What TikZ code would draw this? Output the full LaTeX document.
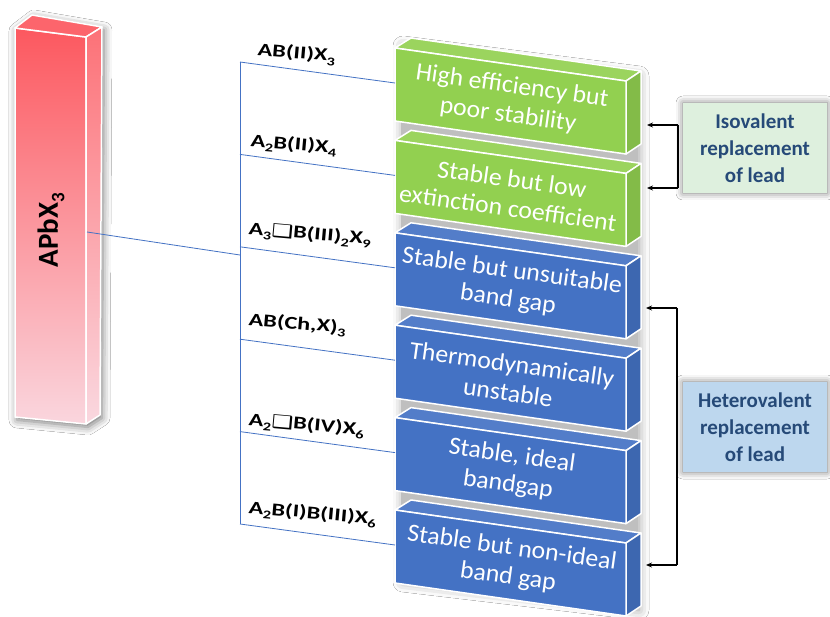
\documentclass[tikz,border=0pt]{standalone}
\usepackage{fontspec}
\setmainfont{Carlito}
\newfontfamily\dejavu{DejaVu Sans}
\usetikzlibrary{arrows.meta,shadows.blur}
\definecolor{boxgreen}{RGB}{146,208,80}
\definecolor{boxblue}{RGB}{68,114,196}
\definecolor{barTop}{RGB}{252,88,95}
\definecolor{barBot}{RGB}{250,214,222}
\definecolor{isofill}{RGB}{222,240,222}
\definecolor{hetfill}{RGB}{189,215,238}
\definecolor{labtext}{RGB}{38,74,120}
\definecolor{linkblue}{RGB}{68,114,196}
\newcommand\vac{{\dejavu ❑}}
\newcommand\lo[1]{\raisebox{-0.45ex}{\fontsize{12}{12}\selectfont #1}}
\tikzset{
  face/.style={draw=white, line width=1.5pt, line join=round},
  boxtext/.style={text=white, align=center, rotate=-8, xscale=1.03,
    font=\fontsize{25}{29}\selectfont, inner sep=0pt},
  formula/.style={anchor=base west, rotate=-5, xscale=1.35, inner sep=0pt,
    font=\fontsize{18}{20}\selectfont\bfseries},
  link/.style={draw=linkblue, line width=0.8pt},
  sidebox/.style={draw=none, text=labtext, align=center, minimum width=144pt,
    minimum height=90pt, font=\fontsize{21}{27}\selectfont\bfseries,
    blur shadow={shadow xshift=0pt, shadow yshift=0pt, shadow blur radius=7pt, shadow opacity=55}},
  bracket/.style={draw=black, line width=1.2pt},
  tip/.style={-{Stealth[length=6pt,width=5pt]}, line width=1.2pt}
}
\begin{document}
\begin{tikzpicture}[x=1pt,y=-1pt]
\useasboundingbox (0,0) rectangle (830,617);
\fill[white] (0,0) rectangle (830,617);

% ---- red bar ----
\path[fill=white, blur shadow={shadow xshift=2pt, shadow yshift=-3pt, shadow blur radius=8pt, shadow opacity=55}]
  (15,28) -- (32,15) -- (102,27) -- (100,415) -- (86,424) -- (15,417) -- cycle;
\shadedraw[face, top color=barTop, bottom color=barBot]
  (15,28) -- (86,37) -- (86,424) -- (15,417) -- cycle;
\fill[face, fill=barTop!92!white] (15,28) -- (32,15) -- (102,27) -- (86,37) -- cycle;
\shadedraw[face, top color=barTop!85!white, bottom color=barBot!95!white]
  (86,37) -- (102,27) -- (100,415) -- (86,424) -- cycle;
\node[rotate=90, font=\fontsize{29}{32}\selectfont\bfseries, inner sep=0pt] (apb) at (51,230)
  {APbX\raisebox{-0.45ex}{\fontsize{19}{19}\selectfont 3}};

% ---- column shadow ----
\path[fill=gray!50, blur shadow={shadow xshift=2pt, shadow yshift=-2pt, shadow blur radius=10pt, shadow opacity=40}]
  (401,44) -- (637,74) -- (637,608) -- (401,580) -- cycle;

% ---- 3D boxes ----
\foreach \t/\c/\n/\txt in {
  48/boxgreen/b1/{High efficiency but\\poor stability},
  140.4/boxgreen/b2/{Stable but low\\extinction coefficient},
  232.8/boxblue/b3/{Stable but unsuitable\\band gap},
  325.2/boxblue/b4/{Thermodynamically\\unstable},
  417.6/boxblue/b5/{Stable, ideal\\bandgap},
  510/boxblue/b6/{Stable but non-ideal\\band gap}}{
  \fill[face, fill=\c!92!white] (395,\t) -- (411,\t-10) -- (641,\t+23) -- (626,\t+33) -- cycle;
  \fill[face, fill=\c!90!black] (626,\t+33) -- (641,\t+23) -- (641,\t+96) -- (626,\t+106) -- cycle;
  \fill[face, fill=\c] (395,\t) -- (626,\t+33) -- (626,\t+106) -- (395,\t+73) -- cycle;
  \node[boxtext] (\n) at (510,\t+53) {\txt};
  \coordinate (\n w) at (395,\t+35);
  \coordinate (\n s) at (240,\t+14);
}

% ---- links ----
\coordinate (barR) at (87,232);
\coordinate (trunk) at (240,255);
\draw[link] (barR) -- (trunk);
\draw[link] (b1s) -- (b6s);
\foreach \n in {b1,b2,b3,b4,b5,b6}{
  \draw[link] (\n s) -- (\n w);
}

% ---- formulas ----
\node[formula] (f1) at (257,55) {AB(II)X\lo{3}};
\node[formula] (f2) at (250,146) {A\lo{2}B(II)X\lo{4}};
\node[formula] (f3) at (248,234) {A\lo{3}\vac B(III)\lo{2}X\lo{9}};
\node[formula] (f4) at (248,325) {AB(Ch,X)\lo{3}};
\node[formula] (f5) at (248,425) {A\lo{2}\vac B(IV)X\lo{6}};
\node[formula] (f6) at (248,513) {A\lo{2}B(I)B(III)X\lo{6}};

% ---- side boxes ----
\node[sidebox, fill=isofill] (iso) at (755,148) {Isovalent\\replacement\\of lead};
\node[sidebox, fill=hetfill] (het) at (755,427) {Heterovalent\\replacement\\of lead};

% ---- brackets ----
\coordinate (isoT) at (678,125);
\coordinate (isoB) at (678,188);
\coordinate (b1e) at (647,125);
\coordinate (b2e) at (647,188);
\draw[bracket] (isoT) -- (isoB);
\draw[tip] (isoT) -- (b1e);
\draw[tip] (isoB) -- (b2e);
\coordinate (hetT) at (677,308);
\coordinate (hetB) at (677,565);
\coordinate (b3e) at (646,308);
\coordinate (b6e) at (646,565);
\draw[bracket] (hetT) -- (hetB);
\draw[tip] (hetT) -- (b3e);
\draw[tip] (hetB) -- (b6e);
\end{tikzpicture}
\end{document}
